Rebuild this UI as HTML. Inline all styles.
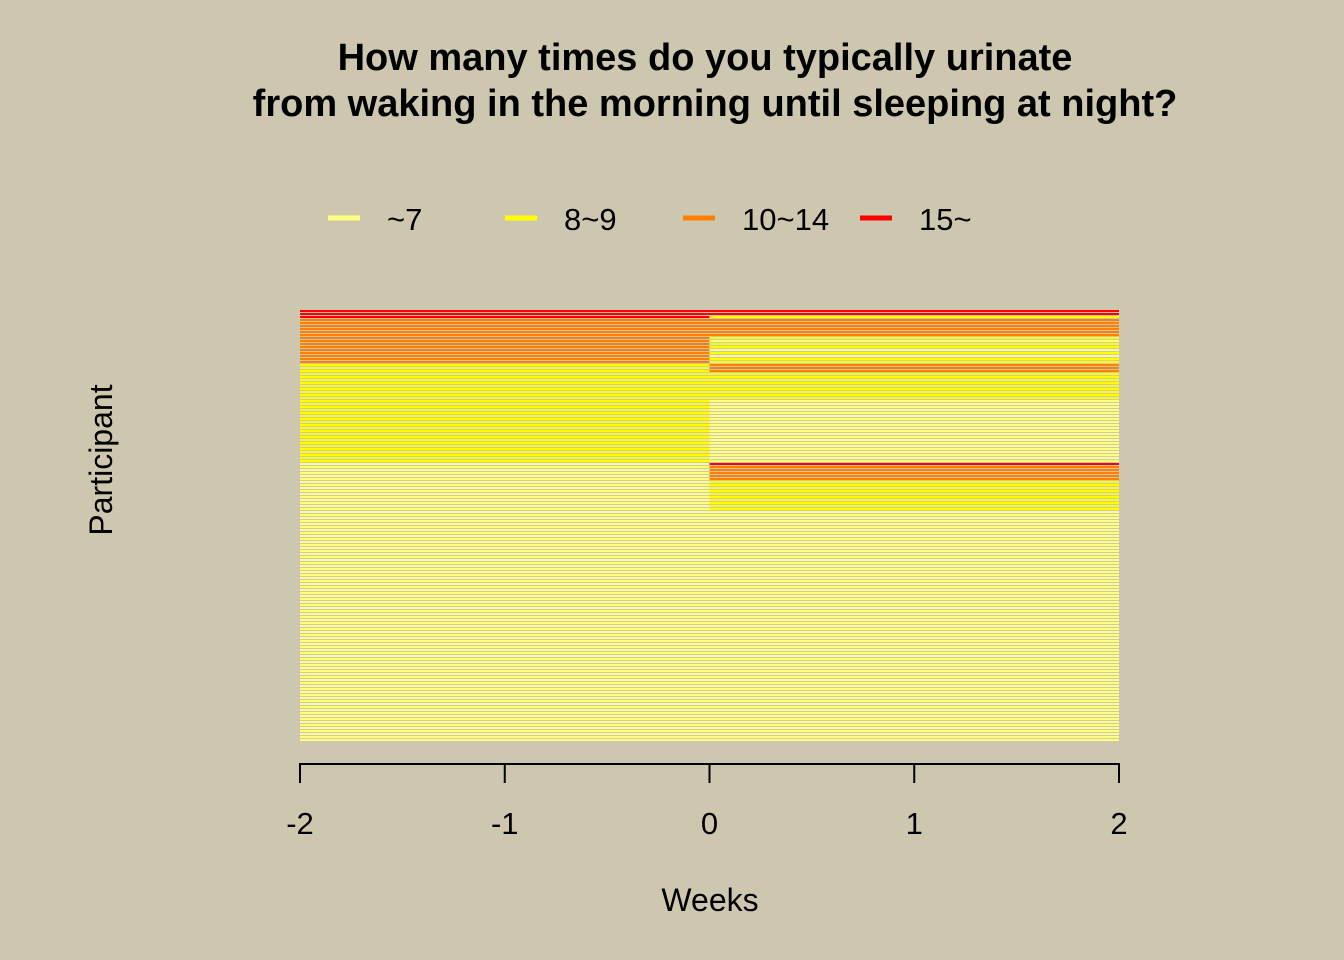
<!DOCTYPE html>
<html><head><meta charset="utf-8"><style>
html,body{margin:0;padding:0;background:#CEC7B0;}
svg{display:block;font-family:"Liberation Sans",Arial,sans-serif;}
</style></head><body>
<svg id="chart" width="1344" height="960">
<rect width="1344" height="960" fill="#CEC7B0"/>
<text x="705" y="70" font-size="38" font-weight="bold" text-anchor="middle">How many times do you typically urinate</text>
<text x="715" y="116" font-size="38" font-weight="bold" text-anchor="middle">from waking in the morning until sleeping at night?</text>
<g id="legend"></g>
<g id="rows"></g>
<g id="xaxis"></g>
<text x="710" y="911" font-size="32" text-anchor="middle">Weeks</text>
<text transform="translate(112,460) rotate(-90)" font-size="32" text-anchor="middle">Participant</text>
</svg>
<script>
const categories = ["~7","8~9","10~14","15~"];
const catColors = ["#FFFF80","#FFFF00","#FF7F00","#FF0000"];
const periods = [[-2,0],[0,2]];
const xTicks = [-2,-1,0,1,2];
const before = [3,3,3,
2,2,2,2,2,2,2,2,2,2,2,2,2,2,2,
1,1,1,1,1,1,1,1,1,1,1,1,1,1,1,1,1,1,1,1,1,1,1,1,1,1,1,1,1,1,1,1,1,
0,0,0,0,0,0,0,0,0,0,0,0,0,0,0,0,0,0,0,0,0,0,0,0,0,0,0,0,0,0,0,0,0,0,0,0,0,0,0,0,0,0,0,0,0,0,0,0,0,0,0,0,0,0,0,0,0,0,0,0,0,0,0,0,0,0,0,0,0,0,0,0,0,0,0,0,0,0,0,0,0,0,0,0,0,0,0,0,0,0,0,0,0];
const after = [3,3,1,
2,2,2,2,2,2,
1,0,1,1,0,1,0,1,1,
2,2,2,
1,1,1,1,1,1,1,1,1,
0,0,0,0,0,0,0,0,0,0,0,0,0,0,0,0,0,0,0,0,0,
3,2,2,2,2,2,
1,1,1,1,1,1,1,1,1,1,
0,0,0,0,0,0,0,0,0,0,0,0,0,0,0,0,0,0,0,0,0,0,0,0,0,0,0,0,0,0,0,0,0,0,0,0,0,0,0,0,0,0,0,0,0,0,0,0,0,0,0,0,0,0,0,0,0,0,0,0,0,0,0,0,0,0,0,0,0,0,0,0,0,0,0,0,0];
const NS="http://www.w3.org/2000/svg";
const X0=300,X1=1119,Y0=310,Y1=742;
const xs=v=>X0+(v+2)/4*(X1-X0);
const n=before.length;
const pitch=(Y1-Y0)/n;
const ys=i=>Y0+i*pitch;
const rowsG=document.getElementById('rows');
[before,after].forEach((series,p)=>{
  series.forEach((c,i)=>{
    const r=document.createElementNS(NS,'rect');
    r.setAttribute('x',xs(periods[p][0]));
    r.setAttribute('y',ys(i));
    r.setAttribute('width',xs(periods[p][1])-xs(periods[p][0]));
    r.setAttribute('height',pitch*0.68);
    r.setAttribute('fill',catColors[c]);
    
    
    rowsG.appendChild(r);
  });
});
const ax=document.getElementById('xaxis');
const line=document.createElementNS(NS,'line');
line.setAttribute('x1',xs(xTicks[0]));line.setAttribute('x2',xs(xTicks[xTicks.length-1]));
line.setAttribute('y1',764);line.setAttribute('y2',764);
line.setAttribute('stroke','#000');line.setAttribute('stroke-width','2');


ax.appendChild(line);
xTicks.forEach(t=>{
  const tk=document.createElementNS(NS,'line');
  tk.setAttribute('x1',xs(t));tk.setAttribute('x2',xs(t));
  tk.setAttribute('y1',763);tk.setAttribute('y2',783);
  tk.setAttribute('stroke','#000');tk.setAttribute('stroke-width','2');
  
  
  ax.appendChild(tk);
  const tx=document.createElementNS(NS,'text');
  tx.setAttribute('x',xs(t));tx.setAttribute('y',834);
  tx.setAttribute('font-size','31');tx.setAttribute('text-anchor','middle');
  tx.textContent=t;
  
  
  ax.appendChild(tx);
});
const lg=document.getElementById('legend');
const legX=[328,505,683,860];
categories.forEach((c,i)=>{
  const l=document.createElementNS(NS,'line');
  l.setAttribute('x1',legX[i]);l.setAttribute('x2',legX[i]+32);
  l.setAttribute('y1',218);l.setAttribute('y2',218);
  l.setAttribute('stroke',catColors[i]);l.setAttribute('stroke-width','5');
  
  
  lg.appendChild(l);
  const t=document.createElementNS(NS,'text');
  t.setAttribute('x',legX[i]+59);t.setAttribute('y',230);
  t.setAttribute('font-size','31');
  t.textContent=c;
  
  
  lg.appendChild(t);
});
</script>
</body></html>
